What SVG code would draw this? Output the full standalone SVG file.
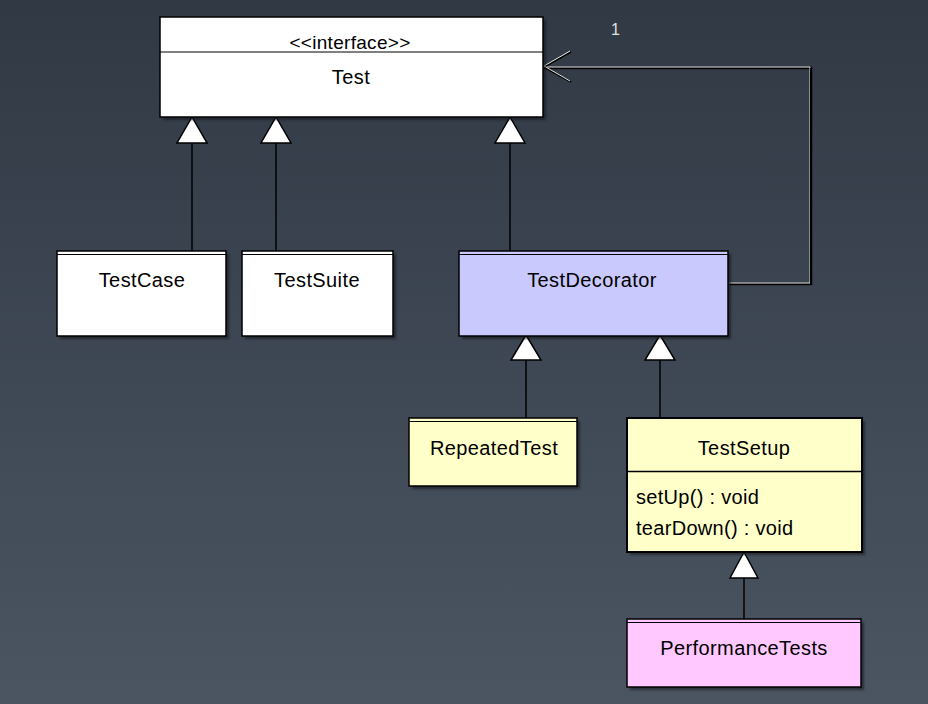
<svg xmlns="http://www.w3.org/2000/svg" width="928" height="704" viewBox="0 0 928 704">
<defs>
<linearGradient id="bg" x1="0" y1="0" x2="0" y2="1">
<stop offset="0" stop-color="#303944"/>
<stop offset="1" stop-color="#4b5562"/>
</linearGradient>
<filter id="sh" x="-5%" y="-5%" width="115%" height="115%"><feGaussianBlur stdDeviation="1.2"/></filter>
</defs>
<style>
.box{stroke:#000;stroke-width:1.5}
.shadow{fill:#15191e;opacity:0.6;filter:url(#sh)}
.t{font-family:"Liberation Sans",Arial,sans-serif;font-size:20px;letter-spacing:0.4px;fill:#000;text-anchor:middle}
.m{font-family:"Liberation Sans",Arial,sans-serif;font-size:20px;letter-spacing:0.3px;fill:#000}
.st{font-family:"Liberation Sans",Arial,sans-serif;font-size:19px;letter-spacing:0.3px;fill:#000;text-anchor:middle}
.gen{stroke:#000;stroke-width:1.5;fill:none}
.tri{fill:#fff;stroke:#000;stroke-width:1.5;stroke-linejoin:miter}
.lab{font-family:"Liberation Sans",Arial,sans-serif;font-size:16px;fill:#e0e0e0}
</style>
<rect width="928" height="704" fill="url(#bg)"/>

<g id="connectors">
<line class="gen" x1="192" y1="143" x2="192" y2="251"/>
<line class="gen" x1="276" y1="143" x2="276" y2="251"/>
<line class="gen" x1="510" y1="143" x2="510" y2="251"/>
<line class="gen" x1="526" y1="360" x2="526" y2="418"/>
<line class="gen" x1="660" y1="360" x2="660" y2="418"/>
<line class="gen" x1="744" y1="578" x2="744" y2="619"/>
<polygon class="tri" points="192,117 177,143 207,143"/>
<polygon class="tri" points="276,117 261,143 291,143"/>
<polygon class="tri" points="510,117 495,143 525,143"/>
<polygon class="tri" points="526,335 511,360 541,360"/>
<polygon class="tri" points="660,335 645,360 675,360"/>
<polygon class="tri" points="744,552 730,578 758,578"/>
<polyline points="729,284 811,284 811,68 544,68" fill="none" stroke="#000" stroke-width="2.5"/>
<polyline points="729,283 810,283 810,67 544,67" fill="none" stroke="#e8e8e8" stroke-width="1"/>
<line x1="811" y1="68" x2="811" y2="284" stroke="#000" stroke-width="2"/>
<polyline points="571,52 544,67 571,82" fill="none" stroke="#000" stroke-width="2"/>
<polyline points="570,51 544,66 570,81" fill="none" stroke="#e8e8e8" stroke-width="1"/>
<text class="lab" x="611" y="35">1</text>
</g>

<g id="Test">
<rect class="shadow" x="163" y="20" width="383" height="100"/>
<rect class="box" x="160" y="17" width="383" height="100" fill="#fff"/>
<line x1="160" y1="52" x2="543" y2="52" stroke="#000" stroke-width="1"/>
<text class="st" x="350" y="49">&lt;&lt;interface&gt;&gt;</text>
<text class="t" x="351" y="84">Test</text>
</g>

<g id="TestCase">
<rect class="shadow" x="60" y="254" width="169" height="85"/>
<rect class="box" x="57" y="251" width="169" height="85" fill="#fff"/>
<line x1="57" y1="254.5" x2="226" y2="254.5" stroke="#000" stroke-width="1"/>
<text class="t" x="142" y="287">TestCase</text>
</g>

<g id="TestSuite">
<rect class="shadow" x="245" y="254" width="151" height="85"/>
<rect class="box" x="242" y="251" width="151" height="85" fill="#fff"/>
<line x1="242" y1="254.5" x2="393" y2="254.5" stroke="#000" stroke-width="1"/>
<text class="t" x="317" y="287">TestSuite</text>
</g>

<g id="TestDecorator">
<rect class="shadow" x="462" y="254" width="269" height="85"/>
<rect class="box" x="459" y="251" width="269" height="85" fill="#c9c9fd"/>
<line x1="459" y1="254.5" x2="728" y2="254.5" stroke="#000" stroke-width="1"/>
<text class="t" x="592" y="287">TestDecorator</text>
</g>

<g id="RepeatedTest">
<rect class="shadow" x="412" y="421" width="168" height="68"/>
<rect class="box" x="409" y="418" width="168" height="68" fill="#ffffc9"/>
<line x1="409" y1="421.5" x2="577" y2="421.5" stroke="#000" stroke-width="1"/>
<text class="t" x="494" y="455">RepeatedTest</text>
</g>

<g id="TestSetup">
<rect class="shadow" x="630" y="421" width="235" height="134"/>
<rect x="627" y="418" width="235" height="134" fill="#ffffc9" stroke="#000" stroke-width="2"/>
<line x1="627" y1="471.5" x2="862" y2="471.5" stroke="#000" stroke-width="1.5"/>
<text class="t" x="744" y="455">TestSetup</text>
<text class="m" x="636" y="504">setUp() : void</text>
<text class="m" x="636" y="535">tearDown() : void</text>
</g>

<g id="PerformanceTests">
<rect class="shadow" x="630" y="622" width="234" height="68"/>
<rect class="box" x="627" y="619" width="234" height="68" fill="#ffc9ff"/>
<line x1="627" y1="622.5" x2="861" y2="622.5" stroke="#000" stroke-width="1"/>
<text class="t" x="744" y="655">PerformanceTests</text>
</g>
</svg>
